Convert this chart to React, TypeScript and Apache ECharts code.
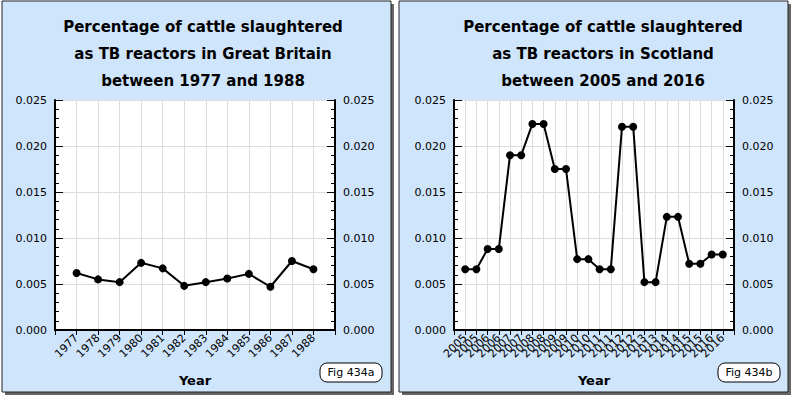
import * as echarts from "echarts";
import React, { useEffect, useRef } from "react";

const gbYears = ["1977", "1978", "1979", "1980", "1981", "1982", "1983", "1984", "1985", "1986", "1987", "1988"];
const gbValues = [0.0062, 0.0055, 0.0052, 0.0073, 0.0067, 0.0048, 0.0052, 0.0056, 0.0061, 0.0047, 0.0075, 0.0066];

const scYears = [
  "2005", "2005", "2006", "2006", "2007", "2007", "2008", "2008", "2009", "2009", "2010", "2010",
  "2011", "2011", "2012", "2012", "2013", "2013", "2014", "2014", "2015", "2015", "2016", "2016",
];
const scValues = [
  0.0066, 0.0066, 0.0088, 0.0088, 0.019, 0.019, 0.0224, 0.0224, 0.0175, 0.0175, 0.0077, 0.0077,
  0.0066, 0.0066, 0.0221, 0.0221, 0.0052, 0.0052, 0.0123, 0.0123, 0.0072, 0.0072, 0.0082, 0.0082,
];

const gbTitle = "Percentage of cattle slaughtered\nas TB reactors in Great Britain\nbetween 1977 and 1988";
const scTitle = "Percentage of cattle slaughtered\nas TB reactors in Scotland\nbetween 2005 and 2016";

const font = "DejaVu Sans";

// pad one empty slot each side so points sit inside the frame
const pad = (a: string[]) => ["", ...a, ""];
const padVals = (a: number[]) => ["-", ...a, "-"];

const App: React.FC = () => {
  const chartRef = useRef<HTMLDivElement>(null);

  useEffect(() => {
    document.body.style.margin = "0";
    if (!chartRef.current) return;
    const chart = echarts.init(chartRef.current, undefined, { renderer: "svg" });

    const xAxis = (gridIndex: number, data: string[]) => ({
      type: "category",
      gridIndex,
      data: pad(data),
      boundaryGap: false,
      name: "Year",
      nameLocation: "middle",
      nameGap: 44,
      nameTextStyle: { fontFamily: font, fontWeight: "bold", fontSize: 13, color: "#000" },
      axisLine: { lineStyle: { color: "#000", width: 2 } },
      axisTick: { length: 5, interval: 0, lineStyle: { color: "#000" } },
      axisLabel: { interval: 0, rotate: 45, fontFamily: font, fontSize: 11, color: "#000", margin: 6 },
      splitLine: { show: true, interval: 0, lineStyle: { color: "#dcdcdc" } },
    });

    const yAxis = (gridIndex: number, position: string) => ({
      type: "value",
      gridIndex,
      position,
      min: 0,
      max: 0.025,
      interval: 0.005,
      axisLine: { show: true, lineStyle: { color: "#000", width: 2 } },
      axisTick: { show: true, inside: true, length: 8, lineStyle: { color: "#000" } },
      minorTick: { show: true, splitNumber: 5, length: 4, lineStyle: { color: "#000" } },
      axisLabel: {
        fontFamily: font, fontSize: 11, color: "#000", margin: 8,
        formatter: (v: number) => v.toFixed(3),
      },
      splitLine: { show: position === "left", lineStyle: { color: "#dcdcdc" } },
    });

    const lineSeries = (idx: number, values: number[]) => ({
      type: "line",
      xAxisIndex: idx,
      yAxisIndex: idx * 2,
      data: padVals(values),
      symbol: "circle",
      symbolSize: 8,
      lineStyle: { color: "#000", width: 2 },
      itemStyle: { color: "#000" },
    });

    const panel = (x: number) => [
      { type: "rect", shape: { x: x + 3, y: 4, width: 389, height: 391 }, style: { fill: "#666" }, z: -10 },
      { type: "rect", shape: { x, y: 1, width: 389, height: 391 }, style: { fill: "#cfe5fc", stroke: "#222", lineWidth: 1 }, z: -9 },
    ];

    const figLabel = (x: number, text: string) => ({
      type: "group",
      children: [
        { type: "rect", shape: { x, y: 363, width: 62, height: 19, r: 7 }, style: { fill: "#fff", stroke: "#000", lineWidth: 1 } },
        { type: "text", x: x + 31, y: 372.5, style: { text, fill: "#000", font: `11px "${font}"`, align: "center", verticalAlign: "middle" } },
      ],
    });

    chart.setOption({
      animation: false,
      title: [
        { text: gbTitle, left: 198, top: 8, textAlign: "center", textStyle: { fontFamily: font, fontSize: 15, fontWeight: "bold", color: "#000", lineHeight: 27 } },
        { text: scTitle, left: 598, top: 8, textAlign: "center", textStyle: { fontFamily: font, fontSize: 15, fontWeight: "bold", color: "#000", lineHeight: 27 } },
      ],
      grid: [
        { left: 55, top: 100, width: 280, height: 230, backgroundColor: "#fff", show: true, borderWidth: 0 },
        { left: 454, top: 100, width: 280, height: 230, backgroundColor: "#fff", show: true, borderWidth: 0 },
      ],
      xAxis: [
        xAxis(0, gbYears),
        xAxis(1, scYears),
        // top frame lines
        { type: "category", gridIndex: 0, position: "top", data: pad(gbYears), boundaryGap: false, axisLine: { lineStyle: { color: "#000", width: 2 } }, axisTick: { show: false }, axisLabel: { show: false } },
        { type: "category", gridIndex: 1, position: "top", data: pad(scYears), boundaryGap: false, axisLine: { lineStyle: { color: "#000", width: 2 } }, axisTick: { show: false }, axisLabel: { show: false } },
      ],
      yAxis: [yAxis(0, "left"), yAxis(0, "right"), yAxis(1, "left"), yAxis(1, "right")],
      series: [lineSeries(0, gbValues), lineSeries(1, scValues)],
      graphic: [...panel(2), ...panel(399), figLabel(320, "Fig 434a"), figLabel(718, "Fig 434b")],
    });

    return () => chart.dispose();
  }, []);

  return <div ref={chartRef} style={{ width: 800, height: 400 }} />;
};

export default App;
